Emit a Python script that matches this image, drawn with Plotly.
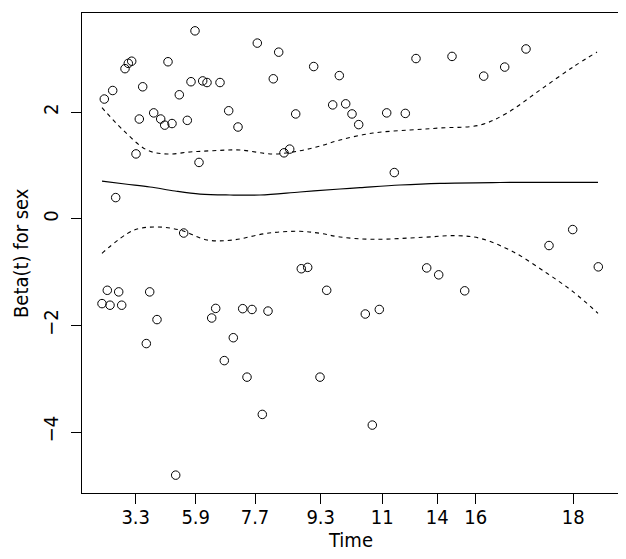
import plotly.graph_objects as go

# transformed (KM-scale) time positions and residuals
pt_x = [104.3, 112.7, 115.7, 125.0, 128.3, 131.7, 136.0, 139.3, 142.7, 153.7,
        160.7, 164.7, 168.0, 172.0, 179.3, 187.3, 191.0, 195.0, 199.0, 202.7,
        207.0, 220.0, 228.7, 238.0, 257.3, 273.3, 278.7, 284.0, 289.7, 295.7,
        313.7, 332.7, 339.3, 345.7, 352.0, 358.7, 386.7, 394.3, 405.3, 416.0,
        452.0, 483.7, 504.7, 526.0,
        102.0, 107.3, 110.0, 118.7, 121.7, 146.3, 149.7, 157.0, 175.7, 183.7,
        211.7, 215.7, 224.3, 233.3, 242.7, 247.0, 252.0, 262.3, 268.0, 301.3,
        307.7, 320.0, 326.7, 365.3, 372.3, 379.3, 426.7, 438.7, 464.7, 549.0,
        572.7, 598.3]
pt_y = [2.25, 2.41, 0.40, 2.82, 2.92, 2.96, 1.22, 1.875, 2.48, 1.99,
        1.875, 1.76, 2.95, 1.79, 2.33, 1.85, 2.575, 3.53, 1.06, 2.59,
        2.56, 2.56, 2.03, 1.725, 3.30, 2.63, 3.13, 1.24, 1.31, 1.97,
        2.86, 2.14, 2.69, 2.16, 1.97, 1.77, 1.99, 0.87, 1.98, 3.01,
        3.05, 2.68, 2.85, 3.19,
        -1.59, -1.34, -1.62, -1.37, -1.62, -2.34, -1.37, -1.89, -4.81, -0.265,
        -1.86, -1.68, -2.66, -2.23, -1.685, -2.97, -1.70, -3.67, -1.73, -0.935,
        -0.91, -2.97, -1.34, -1.785, -3.87, -1.70, -0.92, -1.05, -1.35, -0.50,
        -0.20, -0.90]

fit_x = [102, 125, 150, 175, 200, 230, 260, 300, 340, 360, 400, 440, 500, 560, 598]
fit_y = [0.711, 0.655, 0.599, 0.524, 0.467, 0.449, 0.449, 0.505, 0.561, 0.586,
         0.636, 0.668, 0.683, 0.687, 0.687]

up_x = [102, 123, 147, 167, 190, 213, 240, 273, 300, 320, 340, 373, 410, 440, 480, 507, 540, 573, 597]
up_y = [2.087, 1.669, 1.293, 1.218, 1.256, 1.280, 1.293, 1.218, 1.280, 1.368,
        1.481, 1.612, 1.669, 1.707, 1.762, 1.988, 2.419, 2.851, 3.132]

lo_x = [102, 133, 155, 180, 207, 233, 267, 300, 320, 340, 373, 423, 457, 480, 513, 547, 573, 598]
lo_y = [-0.646, -0.218, -0.152, -0.208, -0.396, -0.396, -0.270, -0.233, -0.270,
        -0.340, -0.383, -0.345, -0.315, -0.364, -0.616, -1.021, -1.366, -1.772]

tick_pos = [135.7, 195.7, 255.0, 320.7, 382.2, 437.3, 475.7, 573.3]
tick_lab = ["3.3", "5.9", "7.7", "9.3", "11", "14", "16", "18"]
y_ticks = [-4, -2, 0, 2]

FONT = "DejaVu Sans Condensed, Liberation Sans Narrow, sans-serif"

fig = go.Figure()
fig.add_trace(go.Scatter(x=pt_x, y=pt_y, mode="markers",
                         marker=dict(symbol="circle-open", size=8.5, color="black",
                                     line=dict(width=1, color="black")),
                         showlegend=False))
fig.add_trace(go.Scatter(x=fit_x, y=fit_y, mode="lines", line_shape="spline",
                         line=dict(color="black", width=1.2), showlegend=False))
fig.add_trace(go.Scatter(x=up_x, y=up_y, mode="lines", line_shape="spline",
                         line=dict(color="black", width=1.1, dash="4px,4px"), showlegend=False))
fig.add_trace(go.Scatter(x=lo_x, y=lo_y, mode="lines", line_shape="spline",
                         line=dict(color="black", width=1.1, dash="4px,4px"), showlegend=False))

fig.update_layout(
    width=618, height=551,
    margin=dict(l=74, r=8, t=5, b=66),
    paper_bgcolor="white", plot_bgcolor="white",
    font=dict(family=FONT, size=20, color="black"),
    xaxis=dict(range=[82, 618], tickvals=tick_pos, ticktext=tick_lab, automargin=False,
               showgrid=False, zeroline=False, ticks="outside", ticklen=10,
               tickcolor="black", showline=True, linecolor="black", linewidth=1,
               mirror=True, ticklabelstandoff=-4, tickfont=dict(size=20)),
    yaxis=dict(range=[-5.145, 3.865], tickvals=y_ticks, automargin=False,
               showgrid=False, zeroline=False, ticks="outside", ticklen=10,
               tickcolor="black", showline=True, linecolor="black", linewidth=1,
               mirror=True, tickangle=-90, ticklabelstandoff=5,
               tickfont=dict(size=20)),
    annotations=[
        dict(text="Time", xref="paper", yref="paper", x=0.5, y=0, yshift=-47,
             xanchor="center", yanchor="middle", showarrow=False, font=dict(size=20)),
        dict(text="Beta(t) for sex", xref="paper", yref="paper", x=0, y=0.5, xshift=-61,
             xanchor="center", yanchor="middle", textangle=-90, showarrow=False,
             font=dict(size=20)),
    ],
)

fig.write_html("out.html")
